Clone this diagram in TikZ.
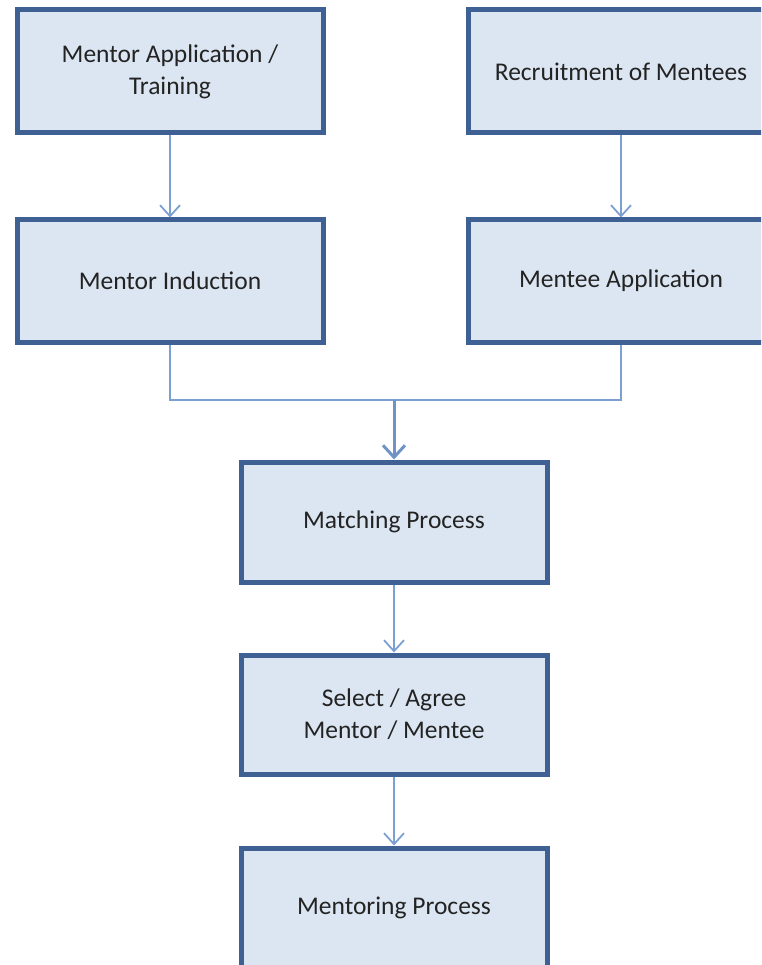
\documentclass[tikz,border=0pt]{standalone}
\usepackage{fontspec}
\setmainfont{Carlito}
\usetikzlibrary{arrows.meta}
\definecolor{boxline}{RGB}{62,96,146}
\definecolor{boxfill}{RGB}{220,230,242}
\definecolor{connline}{RGB}{125,160,210}
\definecolor{txt}{RGB}{35,35,35}
\tikzset{
  stepbox/.style={draw=boxline, line width=5pt, fill=boxfill, minimum width=306pt,
    minimum height=121pt, inner sep=0pt, align=center, text=txt,
    font=\fontsize{25.5pt}{32pt}\selectfont},
  conn/.style={draw=connline, line width=1.8pt},
  connarrow/.style={conn, -{Straight Barb[length=11pt,width=20pt,line width=1.8pt]}},
  mainarrow/.style={draw=connline!80!boxline, line width=3pt, -{Straight Barb[length=12pt,width=22pt,line width=3pt]}}
}
\begin{document}
\begin{tikzpicture}[x=1pt,y=-1pt]
\useasboundingbox (0,0) rectangle (761,965);
\clip (0,0) rectangle (761,965);
\node[stepbox, minimum height=123pt] (mat1) at (170,71.5) {Mentor Application /\\Training};
\node[stepbox, minimum height=123pt] (rec) at (621,71.5) {Recruitment of Mentees};
\node[stepbox, minimum height=122pt] (mi) at (170,281) {Mentor Induction};
\node[stepbox, minimum height=122pt] (mea) at (621,281) {Mentee Application};
\node[stepbox, minimum height=120pt] (mat) at (394,522) {Matching Process};
\node[stepbox, minimum height=119pt] (sel) at (394,714.5) {Select / Agree\\Mentor / Mentee};
\node[stepbox, minimum height=120pt] (men) at (394,908) {Mentoring Process};
\coordinate (j) at (394,400);
\draw[connarrow] (mat1) -- (mi);
\draw[connarrow] (rec) -- (mea);
\draw[conn] (mi.south) |- (j);
\draw[conn] (mea.south) |- (j);
\draw[mainarrow] (j) -- (mat.north);
\draw[connarrow] (mat) -- (sel);
\draw[connarrow] (sel) -- (men);
\end{tikzpicture}
\end{document}
